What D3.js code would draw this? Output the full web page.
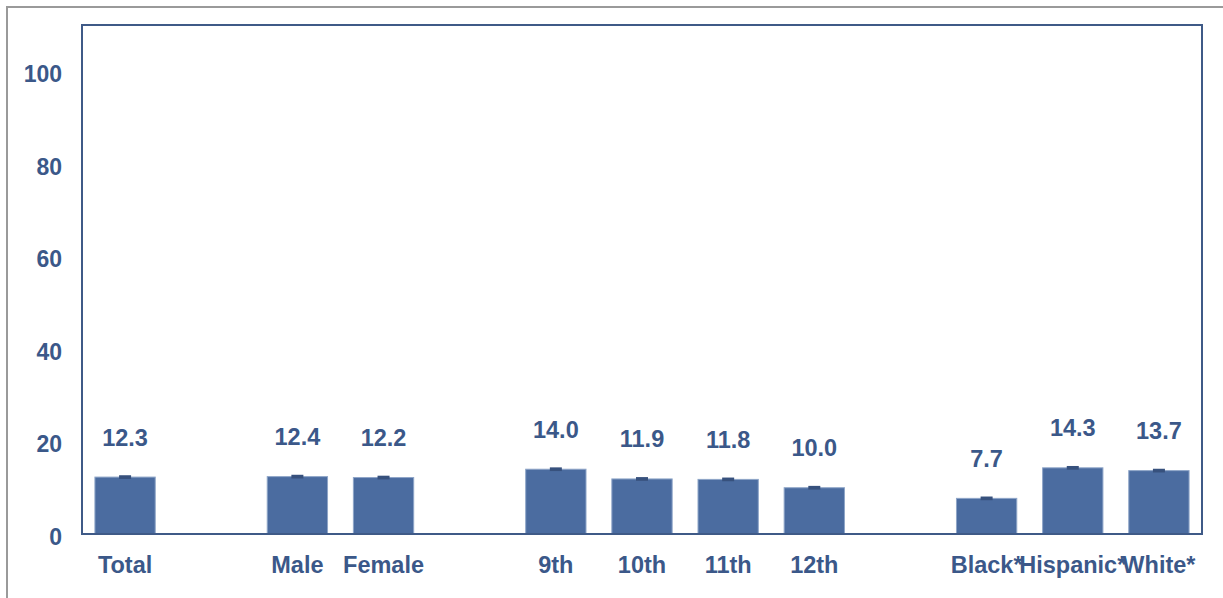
<!DOCTYPE html>
<html>
<head>
<meta charset="utf-8">
<script src="https://cdn.jsdelivr.net/npm/d3@7/dist/d3.min.js"></script>
<style>
  html, body { margin: 0; padding: 0; background: #fff; }
  svg { display: block; }
  text { font-family: "Liberation Sans", Arial, sans-serif; font-weight: bold; }
</style>
</head>
<body>
<svg id="chart" width="1223" height="598"></svg>
<script>
// Slots (empty strings are gaps between groups)
const slots = ["Total", "", "Male", "Female", "", "9th", "10th", "11th", "12th", "", "Black*", "Hispanic*", "White*"];
const categories = ["Total", "Male", "Female", "9th", "10th", "11th", "12th", "Black*", "Hispanic*", "White*"];
const values = [12.3, 12.4, 12.2, 14.0, 11.9, 11.8, 10.0, 7.7, 14.3, 13.7];
const ciLow  = [11.9, 12.0, 11.8, 13.6, 11.5, 11.4, 9.6, 7.3, 13.9, 13.3];
const ciHigh = [12.7, 12.8, 12.6, 14.4, 12.3, 12.2, 10.4, 8.1, 14.7, 14.1];
const yTicks = [0, 20, 40, 60, 80, 100];

const textColor = "#3b5889";
const barColor = "#4b6ca0";
const capColor = "#37517d";
const frameColor = "#3f5a87";

const svg = d3.select("#chart");

// outer gray frame (only left/top visible)
svg.append("rect").attr("x", 7).attr("y", 7).attr("width", 1300).attr("height", 700)
  .attr("fill", "none").attr("stroke", "#9a9a9a").attr("stroke-width", 2);

const plot = { left: 82, right: 1202, top: 25, bottom: 534 };

const x = d3.scaleBand().domain(slots.map((s, i) => i)).range([plot.left, plot.right]).paddingInner(0.3).paddingOuter(0.15);
const y = d3.scaleLinear().domain([0, 110]).range([plot.bottom, plot.top]);

const idx = c => slots.indexOf(c);

// y axis labels
const yAxis = d3.axisLeft(y).tickValues(yTicks).tickSize(0).tickPadding(20).tickFormat(d3.format("d"));
const gy = svg.append("g").attr("transform", `translate(${plot.left},0)`).call(yAxis);
gy.select(".domain").remove();
gy.selectAll("text").attr("fill", textColor).style("font-size", "23px").attr("dy", "0.45em")
  .attr("font-family", "'Liberation Sans', Arial, sans-serif").attr("font-weight", "bold");

// bars
const data = categories.map((c, i) => ({ c, v: values[i], lo: ciLow[i], hi: ciHigh[i] }));
svg.append("g").selectAll("rect").data(data).join("rect")
  .attr("x", d => x(idx(d.c)))
  .attr("width", x.bandwidth())
  .attr("y", d => y(d.v))
  .attr("height", d => y(0) - y(d.v))
  .attr("fill", barColor)
  .attr("stroke", "#8ea5c8").attr("stroke-width", 1);

// error bars (caps)
const capW = 12;
svg.append("g").selectAll("rect").data(data).join("rect")
  .attr("x", d => x(idx(d.c)) + x.bandwidth() / 2 - capW / 2)
  .attr("width", capW)
  .attr("y", d => y(d.hi))
  .attr("height", d => y(d.lo) - y(d.hi))
  .attr("fill", capColor);

// value labels
svg.append("g").selectAll("text").data(data).join("text")
  .attr("x", d => x(idx(d.c)) + x.bandwidth() / 2)
  .attr("y", d => y(d.v) - 40)
  .attr("dy", "0.36em")
  .attr("text-anchor", "middle")
  .attr("fill", textColor)
  .style("font-size", "23.5px")
  .text(d => d.v.toFixed(1));

// plot frame
svg.append("rect").attr("x", plot.left).attr("y", plot.top)
  .attr("width", plot.right - plot.left).attr("height", plot.bottom - plot.top)
  .attr("fill", "none").attr("stroke", frameColor).attr("stroke-width", 2);

// category labels
svg.append("g").selectAll("text").data(categories).join("text")
  .attr("x", c => x(idx(c)) + x.bandwidth() / 2)
  .attr("y", 573)
  .attr("text-anchor", "middle")
  .attr("fill", textColor)
  .style("font-size", "23.5px")
  .text(c => c);
</script>
</body>
</html>
